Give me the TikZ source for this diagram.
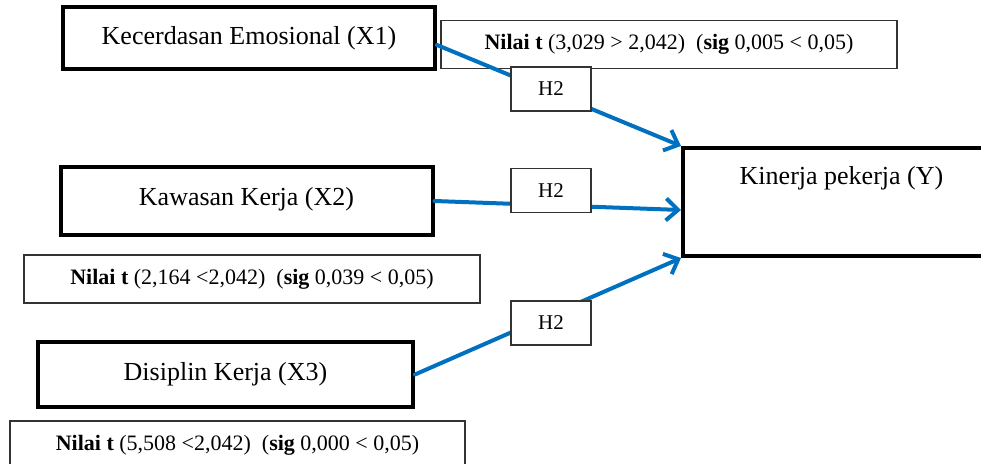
\documentclass[tikz,border=0pt]{standalone}
\usepackage{fontspec}
\setmainfont{Liberation Serif}
\usetikzlibrary{arrows.meta}
\definecolor{linkblue}{RGB}{0,112,192}
\tikzset{
  var/.style={draw, line width=2pt, fill=white, minimum width=186pt,
    font=\fontsize{13}{15}\selectfont},
  stat/.style={draw=black!80, line width=0.6pt, fill=white, minimum width=228pt,
    minimum height=24pt, font=\fontsize{11}{13}\selectfont},
  hyp/.style={draw=black!80, line width=0.6pt, fill=white, minimum width=40pt,
    minimum height=22pt, font=\fontsize{10.5}{12}\selectfont},
  link/.style={draw=linkblue, line width=2pt, line cap=round,
    -{Straight Barb[length=6pt,width=11pt,line width=2pt]}}
}
\begin{document}
\begin{tikzpicture}[x=0.5pt,y=-0.5pt]
      \clip (0,0) rectangle (981,464);
      \draw
        (249,38) node[var, minimum height=31pt] (x1){Kecerdasan Emosional (X1)}
        (246.5,201) node[var, minimum height=34pt, text depth=5pt] (x2){Kawasan Kerja (X2)}
        (225.5,374.5) node[var, minimum width=187.5pt, minimum height=32.5pt] (x3){Disiplin Kerja (X3)}
        (841.5,202) node[var, minimum width=158.5pt, minimum height=54pt,
          text height=9pt, text depth=26pt] (y){Kinerja pekerja (Y)};
      \draw
        (669,44.5) node[stat] (t1){\textbf{Nilai t} (3,029 > 2,042)\ \ (\textbf{sig} 0,005 < 0,05)}
        (252,279) node[stat] (t2){\textbf{Nilai t} (2,164 <2,042)\ \ (\textbf{sig} 0,039 < 0,05)}
        (237.5,445) node[stat, minimum width=227.5pt] (t3){\textbf{Nilai t} (5,508 <2,042)\ \ (\textbf{sig} 0,000 < 0,05)};
      \begin{scope}[link]
        \draw ([yshift=-3.5pt]x1.east) to (y.north west);
        \draw (x2.east) to ([yshift=-4pt]y.west);
        \draw (x3.east) to (y.south west);
      \end{scope}
      \draw
        (551,89) node[hyp] (h1){H2}
        (551,190.5) node[hyp] (h2){H2}
        (551,323) node[hyp] (h3){H2};
    \end{tikzpicture}
\end{document}
